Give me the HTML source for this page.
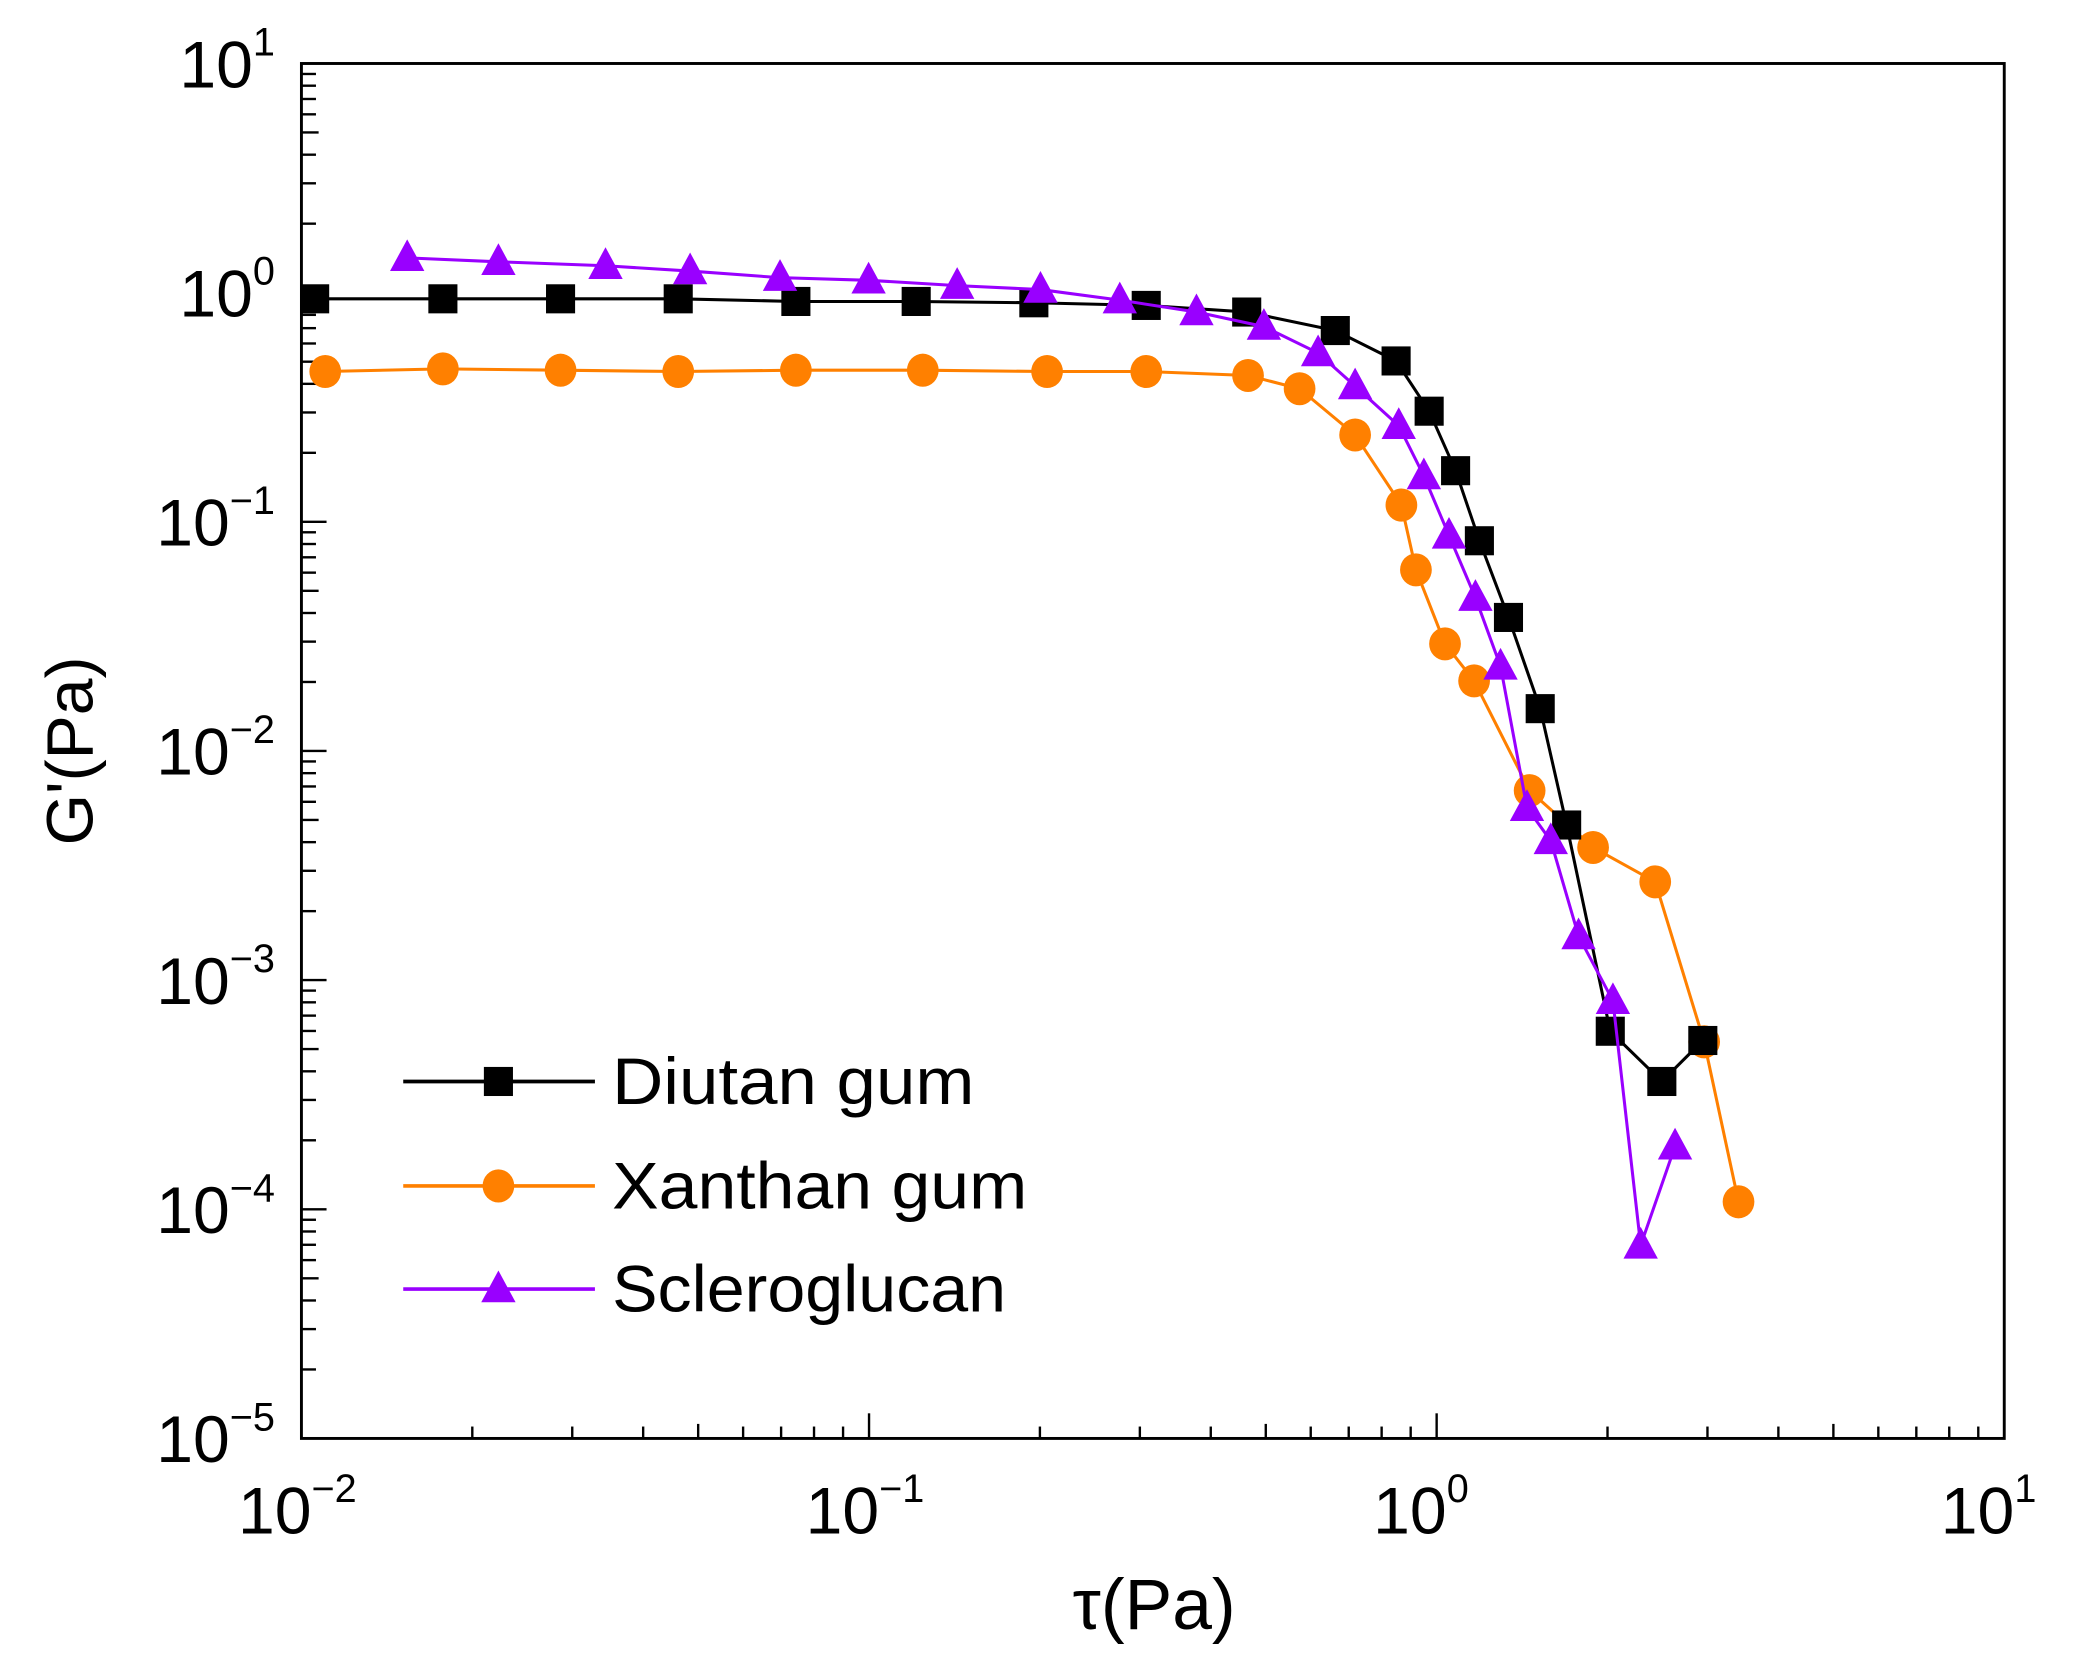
<!DOCTYPE html>
<html><head><meta charset="utf-8"><style>
html,body{margin:0;padding:0;background:#fff;}
svg{display:block;}
text{font-family:"Liberation Sans",sans-serif;fill:#000;}
</style></head><body>
<svg id="s" width="2073" height="1673" viewBox="0 0 1568 1265.4" xmlns="http://www.w3.org/2000/svg">
<rect x="228" y="48" width="1288" height="1040" fill="none" stroke="#000" stroke-width="2.2"/>
<g id="ticks" stroke="#000" stroke-width="1.8"></g>
<g id="labels" font-size="50"></g>
<text x="873" y="1232" font-size="54" text-anchor="middle">τ(Pa)</text>
<text transform="translate(70,568) rotate(-90)" font-size="50" text-anchor="middle">G'(Pa)</text>
<g id="series"></g>
<g id="legend"></g>
</svg>
<script>
var NS="http://www.w3.org/2000/svg";
function el(p,t,a,txt){var e=document.createElementNS(NS,t);for(var k in a)e.setAttribute(k,a[k]);if(txt!=null)e.textContent=txt;p.appendChild(e);return e;}
var L=228,R=1516,T=48,B=1088,dx=(R-L)/3,dy=(B-T)/6;
var tk=document.getElementById('ticks'),lb=document.getElementById('labels');
for(var d=0;d<3;d++){for(var m=1;m<10;m++){var x=L+dx*(d+Math.log10(m));var len=m==1?19:(m==5?11:9);
 if(m==1&&d==0)continue;el(tk,'line',{x1:x,y1:B,x2:x,y2:B-len});}}
for(var d=0;d<6;d++){for(var m=1;m<10;m++){var y=B-dy*(d+Math.log10(m));var len=m==1?19:(m==5?13:11);
 if(m==1&&d==0)continue;el(tk,'line',{x1:L,y1:y,x2:L+len,y2:y});}}
var xe=["\u22122","\u22121","0","1"];
for(var i=0;i<4;i++){var x=L+dx*i;var t=el(lb,'text',{x:x-48,y:1160});el(t,'tspan',{},"10");el(t,'tspan',{dy:-24,'font-size':30},xe[i]);}
var ye=["1","0","\u22121","\u22122","\u22123","\u22124","\u22125"];
for(var i=0;i<7;i++){var y=T+dy*i;var t=el(lb,'text',{x:208,y:y+18,'text-anchor':'end'});el(t,'tspan',{},"10");el(t,'tspan',{dy:-24,'font-size':30},ye[i]);}
var D=[[238,226],[335,226],[424,226],[513,226],[602,228],[693,228],[782,229],[867,231],[943,236],[1010,250],[1056,273],[1081,311],[1101,356],[1119,409],[1141,467],[1165,536],[1185,624],[1218,780],[1257,818],[1288,787]];
var X=[[246,281],[335,279],[424,280],[513,281],[602,280],[698,280],[792,281],[867,281],[944,284],[983,294],[1025,329],[1060,382],[1071,431],[1093,487],[1115,515],[1157,598],[1205,641],[1252,667],[1289,788],[1315,909]];
var S=[[308,195],[377,198],[458,201],[522,205],[590,210],[657,212],[724,216],[787,219],[847,227],[905,236],[956,247],[997,267],[1025,292],[1058,322],[1077,360],[1096,405],[1116,452],[1135,504],[1155,611],[1173,636],[1194,708],[1220,757],[1241,942],[1267,867]];
var sg=document.getElementById('series');
function mk(g,type,x,y,c){if(type=='sq')el(g,'rect',{x:x-11,y:y-11,width:22,height:22,fill:c});
 else if(type=='ci')el(g,'ellipse',{cx:x,cy:y,rx:12,ry:12.5,fill:c});
 else el(g,'polygon',{points:(x)+','+(y-14)+' '+(x-13)+','+(y+10)+' '+(x+13)+','+(y+10),fill:c});}
function series(pts,type,c){el(sg,'polyline',{points:pts.map(function(p){return p.join(',')}).join(' '),fill:'none',stroke:c,'stroke-width':2.3});
 pts.forEach(function(p){mk(sg,type,p[0],p[1],c);});}
series(X,'ci','#ff8000');series(D,'sq','#000');series(S,'tr','#9900ff');
var lg=document.getElementById('legend');
var LE=[["Diutan gum",'sq','#000',818],["Xanthan gum",'ci','#ff8000',897],["Scleroglucan",'tr','#9900ff',975]];
LE.forEach(function(e){el(lg,'line',{x1:305,y1:e[3],x2:450,y2:e[3],stroke:e[2],'stroke-width':2.8});mk(lg,e[1],377,e[3],e[2]);
 el(lg,'text',{x:463,y:e[3]+17,'font-size':50,textLength:e[0]=="Diutan gum"?274:(e[0]=="Xanthan gum"?314:298),lengthAdjust:'spacingAndGlyphs'},e[0]);});
</script>
</body></html>
